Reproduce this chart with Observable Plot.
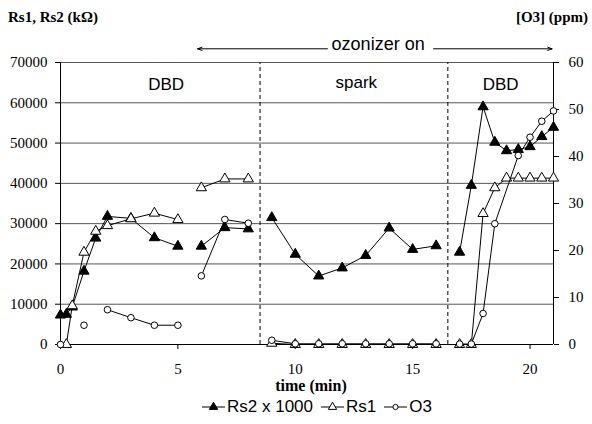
<!DOCTYPE html>
<html><head><meta charset="utf-8">
<script src="https://cdn.jsdelivr.net/npm/d3@7"></script>
<script src="https://cdn.jsdelivr.net/npm/@observablehq/plot@0.6"></script>
<style>
body{margin:0;background:#fff;}
#wrap{position:relative;width:592px;height:424px;overflow:hidden;background:#fff;}
.lab{position:absolute;font-family:'Liberation Serif',serif;font-weight:bold;font-size:15px;color:#000;white-space:nowrap;line-height:1;}
#legend{position:absolute;top:398px;left:202px;display:flex;align-items:center;font-family:'Liberation Sans',sans-serif;font-size:17px;color:#000;white-space:nowrap;line-height:1;}
#legend .item{display:flex;align-items:center;margin-right:8px;}
#legend svg{margin-right:2px;}
#chart svg{display:block;}
#chart svg [aria-label*="tick label"] text, #chart svg [aria-label*="tick label"]{font-family:'Liberation Serif',serif !important;}
</style>
</head><body>
<div id="wrap">
  <div class="lab" style="left:8px;top:10px;">Rs1, Rs2 (kΩ)</div>
  <div class="lab" style="right:4px;top:10px;">[O3] (ppm)</div>
  <div id="chart"></div>
  <div id="legend"></div>
</div>
<script>
// ---- data ----
const rs2Time  = [0,0.25,0.5,1,1.5,2,3,4,5, 6,7,8, 9,10,11,12,13,14,15,16, 17,17.5,18,18.5,19,19.5,20,20.5,21];
const rs2Value = [7300,7500,9300,18200,26400,31800,31300,26500,24400, 24400,29000,28700, 31500,22400,17000,19000,22100,28900,23600,24500, 22900,39500,59000,50200,48100,48400,49100,51600,53900];
const rs2Seg   = [0,0,0,0,0,0,0,0,0, 1,1,1, 2,2,2,2,2,2,2,2, 3,3,3,3,3,3,3,3,3];

const rs1Time  = [0.25,0.5,1,1.5,2,3,4,5, 6,7,8, 9,10,11,12,13,14,15,16, 17,17.5,18,18.5,19,19.5,20,20.5,21];
const rs1Value = [0,9600,22900,28100,29500,31200,32600,31000, 38900,41100,41100, 300,0,0,0,0,0,0,0, 0,0,32500,38900,41300,41300,41300,41300,41300];
const rs1Seg   = [0,0,0,0,0,0,0,0, 1,1,1, 2,2,2,2,2,2,2,2, 3,3,3,3,3,3,3,3,3];

const o3Time  = [0, 1, 2,3,4,5, 6,7,8, 9,10,11,12,13,14,15,16, 17,17.5,18,18.5,19.5,20,20.5,21];
const o3Value = [0, 4.1, 7.4,5.7,4.1,4.1, 14.6,26.6,25.8, 0.9,0.15,0.15,0.15,0.15,0.15,0.15,0.15, 0.1,0.1,6.6,25.7,40.2,44.1,47.5,49.7];
const o3Seg   = [0, 1, 2,2,2,2, 3,3,3, 4,4,4,4,4,4,4,4, 5,5,5,5,5,5,5,5];

const xTicks = [0,5,10,15,20];
const leftTicks = [0,10000,20000,30000,40000,50000,60000,70000];
const rightTicks = [0,10,20,30,40,50,60];
const phaseBounds = [8.5, 16.5];
const regionLabels = ["DBD","spark","DBD"];
const regionX = [4.5, 12.6, 18.75];
const regionY = [64600, 65000, 64600];

const yMax = 70000, ppmMax = 60;
const k = yMax / ppmMax;

const rs2 = rs2Time.map((t,i)=>({t, v: rs2Value[i], s: rs2Seg[i]}));
const rs1 = rs1Time.map((t,i)=>({t, v: rs1Value[i], s: rs1Seg[i]}));
const o3  = o3Time.map((t,i)=>({t, v: o3Value[i]*k, s: o3Seg[i]}));
const regions = regionLabels.map((l,i)=>({l, x: regionX[i], y: regionY[i]}));
const arrows = [{x1: 11.37, x2: 5.84, y: 73400}, {x1: 15.89, x2: 20.94, y: 73400}];

const serif = "'Liberation Serif', serif";
const sans = "'Liberation Sans', sans-serif";

const plot = Plot.plot({
  width: 592, height: 424,
  marginLeft: 60, marginRight: 39, marginTop: 62, marginBottom: 80,
  style: {fontFamily: serif, fontSize: "15px", background: "white", overflow: "visible"},
  x: {domain: [0, 21]},
  y: {domain: [0, yMax]},
  marks: [
    Plot.ruleY(leftTicks.slice(1), {stroke: "#555", strokeWidth: 1}),
    Plot.ruleX(phaseBounds, {y1: 0, y2: yMax, stroke: "#000", strokeDasharray: "4,3", strokeWidth: 1}),
    Plot.ruleX([0, 21], {y1: 0, y2: yMax, stroke: "#000", strokeWidth: 1}),
    Plot.ruleY([0], {stroke: "#000", strokeWidth: 1}),
    Plot.axisX(xTicks, {anchor: "bottom", tickSize: 5, tickPadding: 14, label: null, fontSize: 15, fontFamily: serif}),
    Plot.axisY(leftTicks, {anchor: "left", tickSize: 5, tickPadding: 8, label: null, tickFormat: d => String(d), fontSize: 15, fontFamily: serif}),
    Plot.axisY(rightTicks.map(d => d*k), {anchor: "right", tickSize: 5, tickPadding: 10, label: null, tickFormat: d => String(Math.round(d/k)), fontSize: 15, fontFamily: serif}),
    Plot.line(rs2, {x: "t", y: "v", z: "s", stroke: "#000", strokeWidth: 1}),
    Plot.dot(rs2, {x: "t", y: "v", symbol: "triangle", r: 3.8, fill: "#000", stroke: "#000", strokeWidth: 1}),
    Plot.line(rs1, {x: "t", y: "v", z: "s", stroke: "#000", strokeWidth: 1}),
    Plot.dot(rs1, {x: "t", y: "v", symbol: "triangle", r: 3.8, fill: "#fff", stroke: "#000", strokeWidth: 1}),
    Plot.line(o3, {x: "t", y: "v", z: "s", stroke: "#000", strokeWidth: 1}),
    Plot.dot(o3, {x: "t", y: "v", r: 3.3, fill: "#fff", stroke: "#000", strokeWidth: 1}),
    Plot.text(regions, {x: "x", y: "y", text: "l", fontFamily: sans, fontSize: 17, lineAnchor: "middle", fill: "#000"}),
    Plot.text(["ozonizer on"], {x: 13.53, y: 74500, text: d => d, fontFamily: sans, fontSize: 18, lineAnchor: "middle", fill: "#000"}),
    Plot.arrow(arrows, {x1: "x1", x2: "x2", y1: "y", y2: "y", stroke: "#000", strokeWidth: 1, headLength: 7, headAngle: 40}),
    Plot.text(["time (min)"], {frameAnchor: "bottom", dx: 4, dy: 46, text: d => d, fontFamily: serif, fontSize: 16, fontWeight: "bold", fill: "#000"})
  ]
});
document.getElementById("chart").appendChild(plot);

// legend
const legendItems = [
  {label: "Rs2 x 1000", type: "tri", fill: "#000"},
  {label: "Rs1", type: "tri", fill: "#fff"},
  {label: "O3", type: "circle", fill: "#fff"}
];
const leg = document.getElementById("legend");
for (const it of legendItems) {
  const div = document.createElement("div");
  div.className = "item";
  const sym = it.type === "tri"
    ? `<path d="${d3.symbol(d3.symbolTriangle, 30)()}" transform="translate(11.5,8)" fill="${it.fill}" stroke="#000"/>`
    : `<circle cx="11.5" cy="8" r="2.6" fill="${it.fill}" stroke="#000"/>`;
  div.innerHTML = `<svg width="23" height="16"><line x1="0" x2="23" y1="8" y2="8" stroke="#000"/>${sym}</svg><span>${it.label}</span>`;
  leg.appendChild(div);
}
</script>
</body></html>
